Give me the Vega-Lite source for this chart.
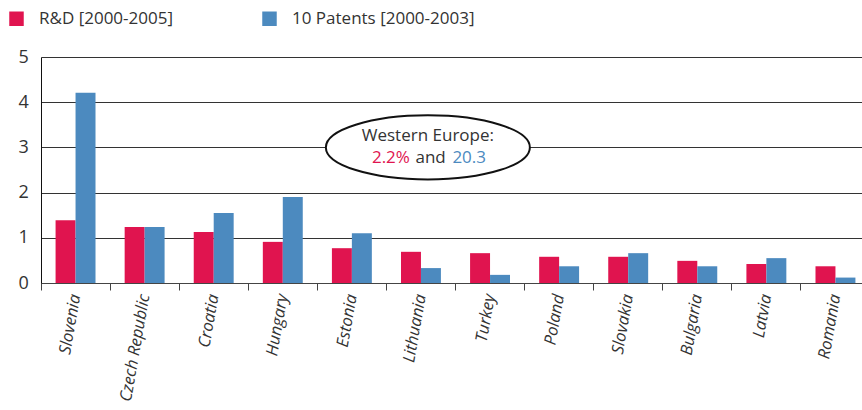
{
  "$schema": "https://vega.github.io/schema/vega-lite/v6.json",
  "width": 821,
  "height": 226,
  "autosize": {"type": "none"},
  "padding": {"left": 41, "top": 57, "right": 0, "bottom": 127},
  "background": "white",
  "config": {
    "font": "Open Sans",
    "view": {"stroke": null}
  },
  "datasets": {
    "bars": [
      {"country": "Slovenia", "series": "R&D [2000-2005]", "value": 1.39},
      {"country": "Slovenia", "series": "10 Patents [2000-2003]", "value": 4.21},
      {"country": "Czech Republic", "series": "R&D [2000-2005]", "value": 1.24},
      {"country": "Czech Republic", "series": "10 Patents [2000-2003]", "value": 1.24},
      {"country": "Croatia", "series": "R&D [2000-2005]", "value": 1.13},
      {"country": "Croatia", "series": "10 Patents [2000-2003]", "value": 1.55},
      {"country": "Hungary", "series": "R&D [2000-2005]", "value": 0.91},
      {"country": "Hungary", "series": "10 Patents [2000-2003]", "value": 1.9},
      {"country": "Estonia", "series": "R&D [2000-2005]", "value": 0.77},
      {"country": "Estonia", "series": "10 Patents [2000-2003]", "value": 1.1},
      {"country": "Lithuania", "series": "R&D [2000-2005]", "value": 0.69},
      {"country": "Lithuania", "series": "10 Patents [2000-2003]", "value": 0.33},
      {"country": "Turkey", "series": "R&D [2000-2005]", "value": 0.66},
      {"country": "Turkey", "series": "10 Patents [2000-2003]", "value": 0.18},
      {"country": "Poland", "series": "R&D [2000-2005]", "value": 0.58},
      {"country": "Poland", "series": "10 Patents [2000-2003]", "value": 0.37},
      {"country": "Slovakia", "series": "R&D [2000-2005]", "value": 0.58},
      {"country": "Slovakia", "series": "10 Patents [2000-2003]", "value": 0.66},
      {"country": "Bulgaria", "series": "R&D [2000-2005]", "value": 0.49},
      {"country": "Bulgaria", "series": "10 Patents [2000-2003]", "value": 0.37},
      {"country": "Latvia", "series": "R&D [2000-2005]", "value": 0.42},
      {"country": "Latvia", "series": "10 Patents [2000-2003]", "value": 0.55},
      {"country": "Romania", "series": "R&D [2000-2005]", "value": 0.37},
      {"country": "Romania", "series": "10 Patents [2000-2003]", "value": 0.12}
    ],
    "note": [
      {"pos": 5.6, "y": 3.0}
    ],
    "noteCenter": [
      {"pos": 5.6, "y": 3.25, "label": "Western Europe:", "color": "text"},
      {"pos": 5.64, "y": 2.77, "label": "and", "color": "text"}
    ],
    "noteLeft": [
      {"pos": 5.955, "y": 2.77, "label": "20.3", "color": "blue"}
    ],
    "noteRight": [
      {"pos": 5.34, "y": 2.77, "label": "2.2%", "color": "red"}
    ]
  },
  "layer": [
    {
      "data": {"name": "bars"},
      "mark": {"type": "bar"},
      "encoding": {
        "x": {
          "field": "country",
          "type": "nominal",
          "sort": null,
          "scale": {"paddingInner": 0, "paddingOuter": 0, "range": [0, 829]},
          "axis": {
            "title": null,
            "bandPosition": 0,
            "labelAngle": -80,
            "labelFontStyle": "italic",
            "labelFontSize": 16.5,
            "labelColor": "#333333",
            "labelPadding": 4,
            "domainColor": "#444444",
            "tickColor": "#444444",
            "tickSize": 7,
            "labelBaseline": "middle",
            "labelAlign": "right"
          }
        },
        "xOffset": {
          "field": "series",
          "type": "nominal",
          "sort": ["R&D [2000-2005]", "10 Patents [2000-2003]"],
          "scale": {"paddingInner": 0, "paddingOuter": 0.73}
        },
        "y": {
          "field": "value",
          "type": "quantitative",
          "scale": {"domain": [0, 5], "nice": false},
          "axis": {
            "title": null,
            "values": [0, 1, 2, 3, 4, 5],
            "ticks": false,
            "labelFontSize": 18,
            "labelColor": "#333333",
            "labelPadding": 23,
            "labelAlign": "left",
            "domainColor": "#111111",
            "gridColor": "#333333",
            "gridOpacity": 1,
            "labelFlush": false
          }
        },
        "color": {
          "field": "series",
          "type": "nominal",
          "sort": ["R&D [2000-2005]", "10 Patents [2000-2003]"],
          "scale": {"range": ["#E0144F", "#4C8ABF"]},
          "legend": {
            "title": null,
            "orient": "none",
            "legendX": -33,
            "legendY": -47,
            "direction": "horizontal",
            "symbolType": "square",
            "symbolSize": 210,
            "symbolStrokeWidth": 0,
            "symbolOpacity": 1,
            "labelFontSize": 17,
            "labelLimit": 400,
            "labelColor": "#333333",
            "labelOffset": 14,
            "columnPadding": 88
          }
        }
      }
    },
    {
      "data": {"name": "note"},
      "mark": {
        "type": "point",
        "shape": "M-1,0A1,0.314,0,1,0,1,0A1,0.314,0,1,0,-1,0Z",
        "filled": true,
        "fill": "white",
        "stroke": "#111111",
        "strokeWidth": 2,
        "opacity": 1,
        "size": 41616
      },
      "encoding": {
        "x": {"field": "pos", "type": "quantitative", "scale": {"domain": [0, 12], "range": [0, 829]}, "axis": null},
        "y": {"field": "y", "type": "quantitative", "title": null}
      }
    },
    {
      "data": {"name": "noteCenter"},
      "mark": {"type": "text", "fontSize": 17, "baseline": "middle", "align": "center"},
      "encoding": {
        "x": {"field": "pos", "type": "quantitative", "scale": {"domain": [0, 12], "range": [0, 829]}, "axis": null},
        "y": {"field": "y", "type": "quantitative", "title": null},
        "text": {"field": "label"},
        "color": {
          "field": "color",
          "type": "nominal",
          "scale": {"domain": ["text", "red", "blue"], "range": ["#333333", "#E0144F", "#4C8ABF"]},
          "legend": null
        }
      }
    },
    {
      "data": {"name": "noteLeft"},
      "mark": {"type": "text", "fontSize": 17, "baseline": "middle", "align": "left"},
      "encoding": {
        "x": {"field": "pos", "type": "quantitative", "scale": {"domain": [0, 12], "range": [0, 829]}, "axis": null},
        "y": {"field": "y", "type": "quantitative", "title": null},
        "text": {"field": "label"},
        "color": {
          "field": "color",
          "type": "nominal",
          "scale": {"domain": ["text", "red", "blue"], "range": ["#333333", "#E0144F", "#4C8ABF"]},
          "legend": null
        }
      }
    },
    {
      "data": {"name": "noteRight"},
      "mark": {"type": "text", "fontSize": 17, "baseline": "middle", "align": "right"},
      "encoding": {
        "x": {"field": "pos", "type": "quantitative", "scale": {"domain": [0, 12], "range": [0, 829]}, "axis": null},
        "y": {"field": "y", "type": "quantitative", "title": null},
        "text": {"field": "label"},
        "color": {
          "field": "color",
          "type": "nominal",
          "scale": {"domain": ["text", "red", "blue"], "range": ["#333333", "#E0144F", "#4C8ABF"]},
          "legend": null
        }
      }
    }
  ],
  "resolve": {"scale": {"x": "independent", "color": "independent"}}
}
